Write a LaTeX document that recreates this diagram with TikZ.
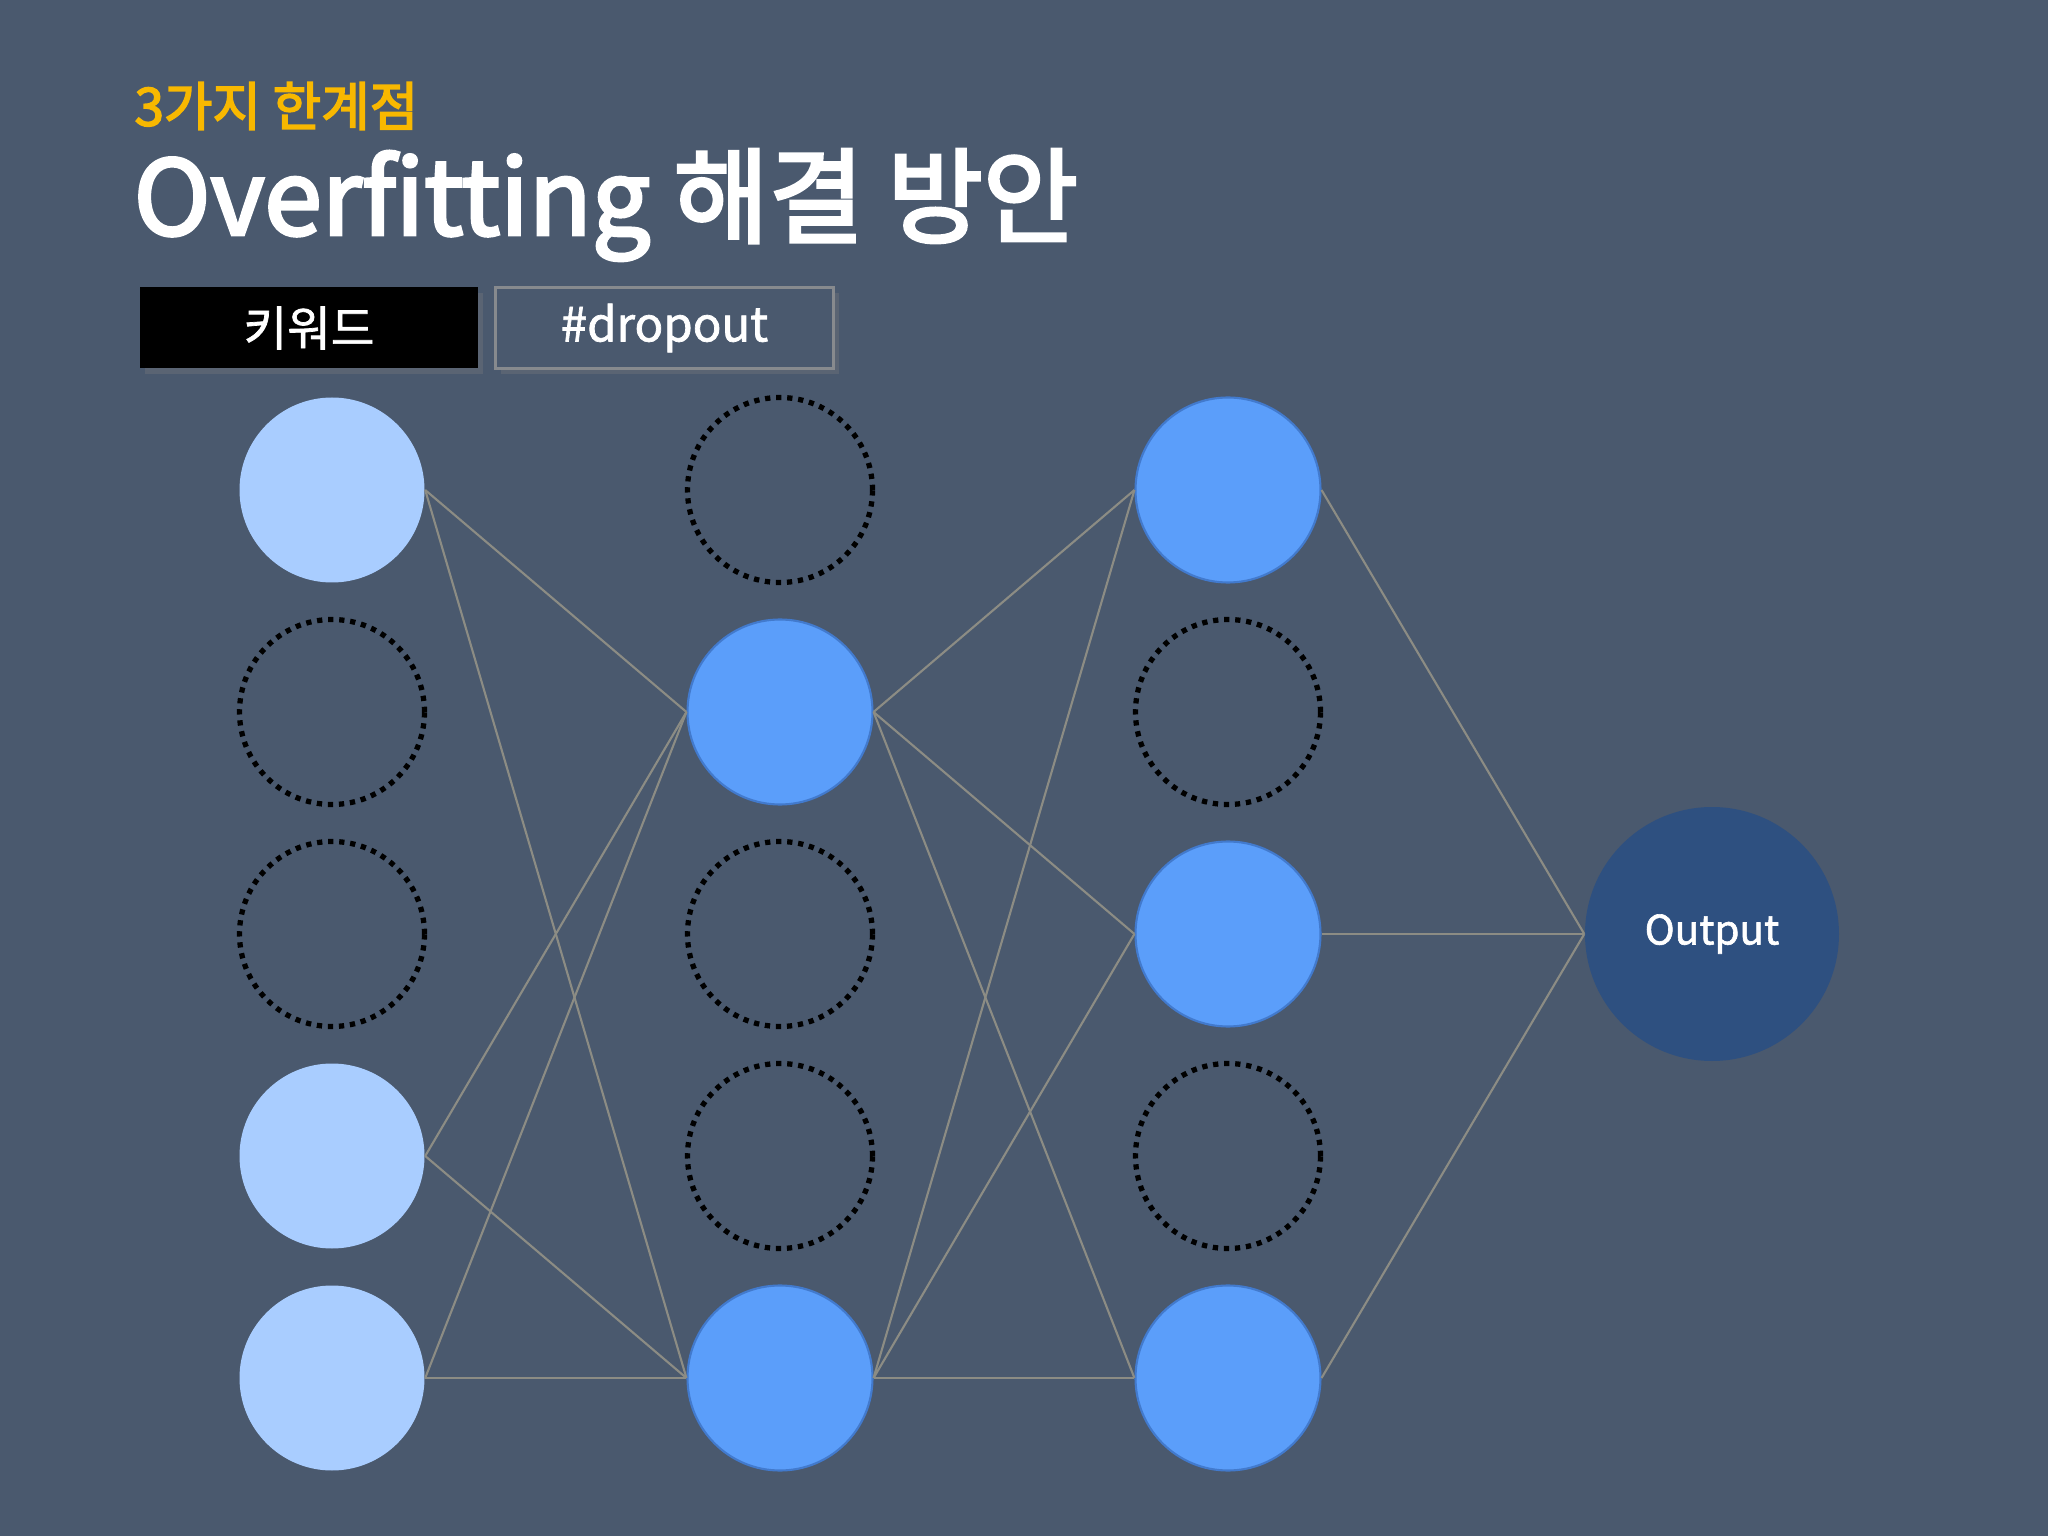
\documentclass[tikz,border=0pt]{standalone}
\usepackage{fontspec}
\setmainfont{Noto Sans CJK KR}
\newfontfamily\medfont[FakeBold=3]{Noto Sans CJK KR}
\newfontfamily\semifont[FakeBold=1.5]{Noto Sans CJK KR}
\usetikzlibrary{shadows}
\definecolor{slidebg}{RGB}{74,89,110}
\definecolor{titleyellow}{RGB}{248,184,0}
\definecolor{lightblue}{RGB}{169,205,255}
\definecolor{midblue}{RGB}{91,158,250}
\definecolor{midborder}{RGB}{66,122,205}
\definecolor{darkblue}{RGB}{46,80,128}
\definecolor{wiregray}{RGB}{140,140,132}
\definecolor{boxline}{RGB}{135,138,142}
\begin{document}
\begin{tikzpicture}[
    unit/.style={circle,minimum size=1.85cm,inner sep=0pt},
    inunit/.style={unit,fill=lightblue},
    hidunit/.style={unit,fill=midblue,draw=midborder,line width=0.6pt},
    dropped/.style={unit,draw=black,line width=1.5pt,dash pattern=on 1.5pt off 1.65pt},
    wire/.style={wiregray,line width=0.6pt},
    tagbox/.style={minimum width=3.38cm,minimum height=0.81cm,inner sep=0pt,
        text=white,font=\semifont\fontsize{13.5}{16}\selectfont,
        drop shadow={shadow xshift=1.5pt,shadow yshift=-1.5pt,opacity=0.3}}
]
    \fill[slidebg] (0,0) rectangle (20.48,-15.36);
    \useasboundingbox (0,0) rectangle (20.48,-15.36);

    % heading
    \node[anchor=west,inner sep=0pt,text=titleyellow,font=\medfont\fontsize{15}{18}\selectfont] (sub) at (1.34,-1.06) {3가지 한계점};
    \node[anchor=west,inner sep=0pt,text=white,font=\medfont\fontsize{29.5}{36}\selectfont] (title) at (1.33,-2.05) {Overfitting 해결 방안};
    \node[tagbox,fill=black] (key) at (3.09,-3.28) {\raisebox{-1pt}{키워드}};
    \node[tagbox,fill=slidebg,draw=boxline,line width=1pt] (tag) at (6.645,-3.28) {\raisebox{-1pt}{\#dropout}};

    % input layer
    \node[inunit] (a1) at (3.32,-4.90) {};
    \node[dropped] (a2) at (3.32,-7.12) {};
    \node[dropped] (a3) at (3.32,-9.34) {};
    \node[inunit] (a4) at (3.32,-11.56) {};
    \node[inunit] (a5) at (3.32,-13.78) {};

    % first hidden layer
    \node[dropped] (b1) at (7.80,-4.90) {};
    \node[hidunit] (b2) at (7.80,-7.12) {};
    \node[dropped] (b3) at (7.80,-9.34) {};
    \node[dropped] (b4) at (7.80,-11.56) {};
    \node[hidunit] (b5) at (7.80,-13.78) {};

    % second hidden layer
    \node[hidunit] (c1) at (12.28,-4.90) {};
    \node[dropped] (c2) at (12.28,-7.12) {};
    \node[hidunit] (c3) at (12.28,-9.34) {};
    \node[dropped] (c4) at (12.28,-11.56) {};
    \node[hidunit] (c5) at (12.28,-13.78) {};

    % output
    \node[unit,minimum size=2.54cm,fill=darkblue,text=white,font=\semifont\fontsize{11.5}{14}\selectfont] (out) at (17.12,-9.34) {Output};

    % connections
    \foreach \s in {a1,a4,a5}
        \foreach \t in {b2,b5}
            \draw[wire] (\s.east) -- (\t.west);
    \foreach \s in {b2,b5}
        \foreach \t in {c1,c3,c5}
            \draw[wire] (\s.east) -- (\t.west);
    \foreach \s in {c1,c3,c5}
        \draw[wire] (\s.east) -- (out.west);
\end{tikzpicture}
\end{document}
